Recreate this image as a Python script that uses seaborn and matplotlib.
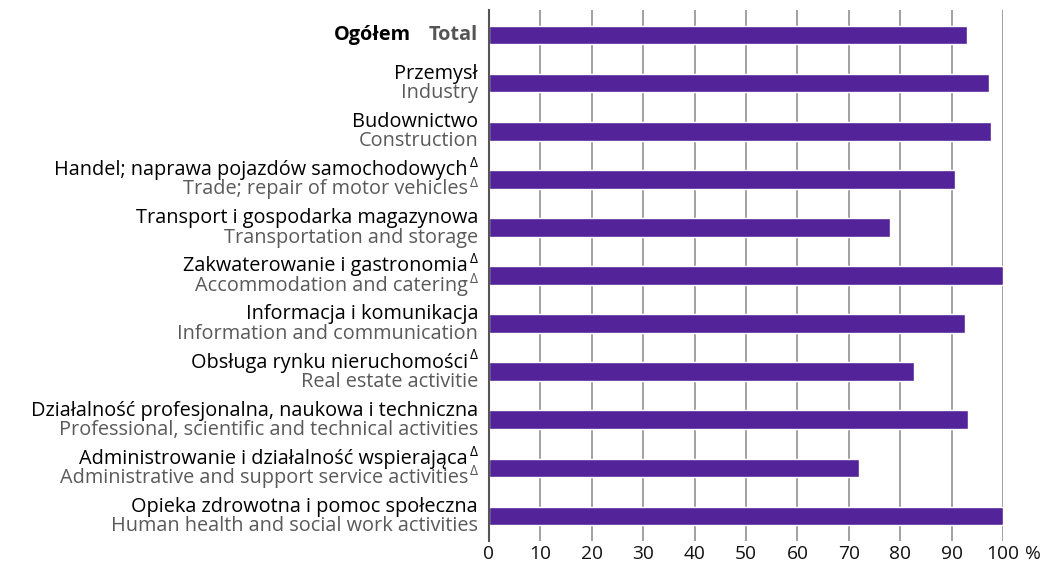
import matplotlib
matplotlib.use("Agg")
import matplotlib.pyplot as plt
import matplotlib.transforms as mtransforms
import seaborn as sns
import pandas as pd

categories_pl = [
    "Ogółem",
    "Przemysł",
    "Budownictwo",
    "Handel; naprawa pojazdów samochodowych",
    "Transport i gospodarka magazynowa",
    "Zakwaterowanie i gastronomia",
    "Informacja i komunikacja",
    "Obsługa rynku nieruchomości",
    "Działalność profesjonalna, naukowa i techniczna",
    "Administrowanie i działalność wspierająca",
    "Opieka zdrowotna i pomoc społeczna",
]
categories_en = [
    "Total",
    "Industry",
    "Construction",
    "Trade; repair of motor vehicles",
    "Transportation and storage",
    "Accommodation and catering",
    "Information and communication",
    "Real estate activitie",
    "Professional, scientific and technical activities",
    "Administrative and support service activities",
    "Human health and social work activities",
]
delta_pl = [False, False, False, True, False, True, False, True, False, True, False]
delta_en = [False, False, False, True, False, True, False, False, False, True, False]
values = [93.0, 97.3, 97.7, 90.6, 78.0, 100.0, 92.6, 82.7, 93.2, 72.0, 100.0]
x_ticks = [0, 10, 20, 30, 40, 50, 60, 70, 80, 90, 100]
x_tick_labels = ["0", "10", "20", "30", "40", "50", "60", "70", "80", "90", "100"]

sns.set_style("white")
FONT = "Open Sans"
plt.rcParams["font.family"] = [FONT, "DejaVu Sans"]

df = pd.DataFrame({"cat": categories_en, "val": values})

fig = plt.figure(figsize=(10.46, 5.69), dpi=100)
ax = fig.add_axes([489 / 1046, 1 - 541 / 569, 514 / 1046, 531 / 569])

sns.barplot(data=df, y="cat", x="val", orient="h", color="#532499",
            saturation=1, width=0.39, ax=ax, order=categories_en)

ax.set_xlim(0, 100)
ax.set_ylim(10.52, -0.52)
ax.set_xlabel("")
ax.set_ylabel("")
ax.set_axisbelow(True)
ax.xaxis.grid(True, color="#9a9a9a", linewidth=1.3)
ax.yaxis.grid(False)
for s in ["top", "right", "bottom"]:
    ax.spines[s].set_visible(False)
ax.spines["left"].set_color("#555555")
ax.spines["left"].set_linewidth(1.5)

FS = 14.3
TFS = 13.8
ax.set_xticks(x_ticks)
ax.set_xticklabels(x_tick_labels, fontsize=TFS, color="#111111")
ax.tick_params(axis="x", length=0, pad=3)
ax.set_yticks([])

trans_y = ax.get_yaxis_transform()
t_main = mtransforms.offset_copy(trans_y, fig=fig, x=-11, y=0, units="dots")
t_dlt = mtransforms.offset_copy(trans_y, fig=fig, x=-21, y=0, units="dots")

# percent sign after the 100 label
ax.text(100, 0.0, "%", transform=mtransforms.offset_copy(ax.get_xaxis_transform(), fig=fig, x=22, y=-4, units="dots"),
        ha="left", va="top", fontsize=TFS, color="#111111")

for i, (pl, en) in enumerate(zip(categories_pl, categories_en)):
    if i == 0:
        ax.text(0, i, en, transform=t_main, ha="right", va="center",
                fontsize=FS, fontweight="bold", color="#555555")
        ax.text(0, i, pl, transform=mtransforms.offset_copy(trans_y, fig=fig, x=-78, y=0, units="dots"),
                ha="right", va="center", fontsize=FS, fontweight="bold", color="black")
        continue
    tp = t_dlt if delta_pl[i] else t_main
    te = t_dlt if delta_en[i] else t_main
    ax.text(0, i - 0.19, pl, transform=tp, ha="right", va="center",
            fontsize=FS, color="black")
    ax.text(0, i + 0.21, en, transform=te, ha="right", va="center",
            fontsize=FS, color="#5a5a5a")
    if delta_pl[i]:
        ax.text(0, i - 0.33, "Δ", transform=t_main, ha="right", va="center",
                fontsize=10, color="black")
    if delta_en[i]:
        ax.text(0, i + 0.08, "Δ", transform=t_main, ha="right", va="center",
                fontsize=10, color="#5a5a5a")

fig.savefig("out.png", dpi=100)
